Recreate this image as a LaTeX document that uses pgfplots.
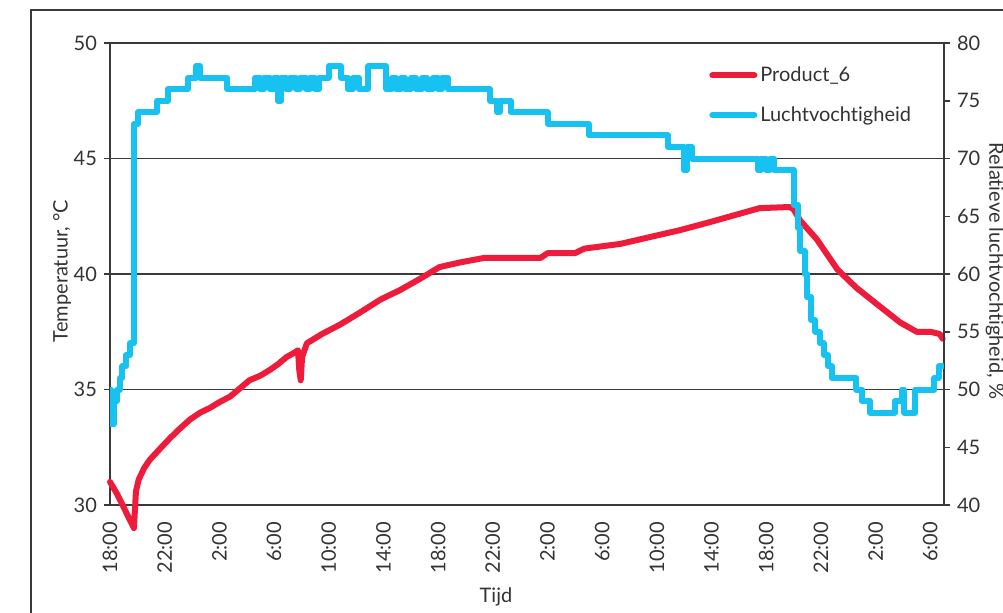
\documentclass[border=0pt]{standalone}
\usepackage{pgfplots}
\pgfplotsset{compat=1.18}
\usepackage{fontspec}
\setmainfont{Lato}[Ligatures={CommonOff,ContextualOff}]
\definecolor{tred}{HTML}{EE1C3A}
\definecolor{hcyan}{HTML}{17C2F1}
\definecolor{axgray}{HTML}{3A3A3A}
\definecolor{txtgray}{HTML}{333333}
\begin{document}
\begin{tikzpicture}
\pgfplotsset{
  common/.style={
    scale only axis, width=417pt, height=231pt,
    xmin=0, xmax=61,
    /pgf/number format/assume math mode=true,
    ticklabel style={font=\fontsize{10}{12}\selectfont, text=txtgray},
    axis line style={line width=0.75pt, axgray},
    tick style={line width=0.75pt, axgray},
    major tick length=3pt,
    tick align=outside,
  }
}
\begin{axis}[common, clip=false,
  ymin=30, ymax=50, ytick={30,35,...,50}, ytick pos=left,
  xtick={0,4,...,60},
  xticklabels={18:00,22:00,2:00,6:00,10:00,14:00,18:00,22:00,2:00,6:00,10:00,14:00,18:00,22:00,2:00,6:00},
  xticklabel style={rotate=90, anchor=east, xshift=-2pt},
  xtick style={draw=none},
  ymajorgrids, major grid style={line width=0.75pt, axgray},
]
\addplot[tred, line width=3pt, line join=round, line cap=round] coordinates {
(0,31.0)(0.5,30.5)(1.0,29.9)(1.5,29.3)(1.75,29.0)(1.9,30.6)(2.1,31.1)(2.5,31.6)(2.9,31.95)
(3.6,32.4)(4.4,32.9)(5.1,33.3)(5.85,33.7)(6.6,34.0)(7.3,34.2)(8.0,34.45)(8.8,34.7)(9.5,35.05)
(10.2,35.4)(11.0,35.6)(11.7,35.85)(12.3,36.1)(12.9,36.4)(13.5,36.6)(13.75,36.7)(13.85,35.8)
(13.95,35.4)(14.05,36.4)(14.4,37.0)(15.5,37.4)(16.8,37.8)(18.2,38.3)(19.8,38.9)(21.2,39.3)
(22.7,39.8)(24.1,40.3)(25.6,40.5)(27.4,40.7)(31.5,40.7)(32.0,40.9)(34.0,40.9)(34.7,41.1)
(37.3,41.3)(39.5,41.6)(41.7,41.9)(43.9,42.25)(46.0,42.6)(47.5,42.85)(49.7,42.9)(50.0,42.8)
(50.5,42.3)(51.7,41.5)(53.2,40.2)(54.6,39.4)(56.3,38.6)(57.8,37.9)(59.0,37.5)(60.0,37.5)
(60.7,37.4)(60.9,37.2)
};
\end{axis}
\begin{axis}[common,
  ymin=40, ymax=80, ytick={40,45,...,80},
  hide x axis, axis y line*=right,
  legend style={at={(rel axis cs:0.711,0.965)}, anchor=north west, draw=none, fill=none,
    font=\fontsize{10}{12}\selectfont, text=txtgray, row sep=8pt,
    nodes={inner sep=1.5pt}},
  legend cell align=left,
  legend image code/.code={\draw[#1, line width=3pt, line cap=round] (0pt,0pt) -- (21pt,0pt);},
]
\addlegendimage{tred}
\addlegendentry{Product\_6}
\addplot[hcyan, line width=3pt, const plot, line join=round, line cap=round] coordinates {
(0,50)(0.1,47)(0.3,49)(0.5,50)(0.7,51)(0.9,52)(1.2,53)(1.45,54)(1.75,73)(2.05,74)
(3.44,75)(4.24,76)(5.71,77)(6.3,78)(6.6,77)(8.56,76)(10.6,77)
(11.0,76)(11.3,77)(11.7,76)(12.0,77)(12.3,75)(12.5,77)(12.9,76)(13.2,77)(13.6,76)(13.9,77)
(14.3,76)(14.6,77)(15.0,76)(15.3,77)(16.0,78)(16.9,77)(17.4,76)(17.8,77)(18.2,76)(18.9,78)
(20.2,76)(20.6,77)(20.9,76)(21.3,77)(21.6,76)(22.0,77)(22.4,76)(22.8,77)(23.2,76)(23.6,77)
(24.0,76)(24.3,77)(24.7,76)(27.8,75)(28.3,74)(28.5,75)(29.3,74)(32.0,73)(35.0,72)(40.8,71)
(42.0,69)(42.2,71)(42.6,70)(47.4,69)(47.6,70)(48.0,69)(48.3,70)(48.6,69)
(50.0,66)(50.3,64)(50.5,62)(50.8,60)(51.0,58)(51.3,56)(51.6,55)(51.9,54)(52.2,53)(52.5,52)(52.8,51)
(54.6,50)(55.0,49)(55.6,48)(57.4,49)(57.9,50)(58.1,48)(58.9,50)(60.3,51)(60.6,52)(60.9,52)
};
\addlegendentry{Luchtvochtigheid}
\end{axis}
\node[rotate=90, text=txtgray, font=\fontsize{10}{12}\selectfont] at (-24pt,117pt) {Temperatuur, °C};
\node[rotate=-90, text=txtgray, font=\fontsize{10}{12}\selectfont] at (442.5pt,117pt) {Relatieve luchtvochtigheid, \%};
\node[text=txtgray, font=\fontsize{10}{12}\selectfont] at (193pt,-46pt) {Tijd};
\draw[line width=0.75pt, axgray] (-39.5pt,-80pt) -- (-39.5pt,247.5pt) -- (480pt,247.5pt);
\pgfresetboundingbox
\path[use as bounding box] (-55pt,-53.5pt) rectangle (446.5pt,252.5pt);
\end{tikzpicture}
\end{document}
